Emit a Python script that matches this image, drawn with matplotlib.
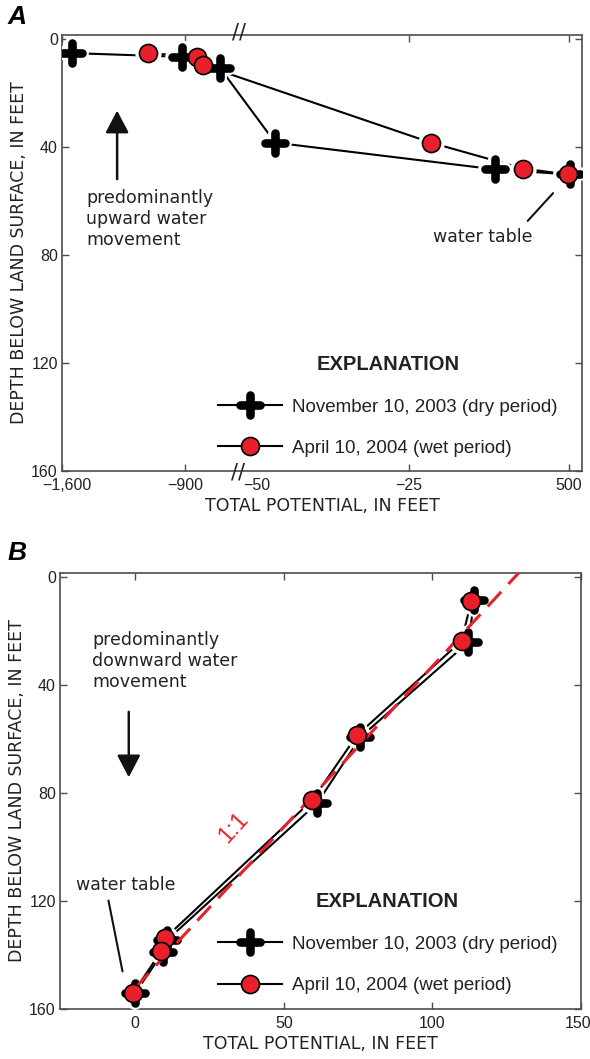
import numpy as np
import matplotlib.pyplot as plt
import matplotlib.transforms as mtransforms
from matplotlib.lines import Line2D
from matplotlib.markers import MarkerStyle

# ---- panel A: broken potential axis ----
a_dry_x = [-1543, -917, -702, -47.0, 257, 502]
a_dry_depth = [5.1, 6.5, 10.6, 38.3, 48.2, 50.1]
a_wet_x = [-1110, -832, -798, 47, 349, 497]
a_wet_depth = [5.1, 6.5, 9.5, 38.3, 47.9, 50.1]
a_xticks = [-1600, -900, -50, -25, 500]
a_xticklabels = ['\u22121,600', '\u2212900', '\u221250', '\u221225', '500']

# ---- panel B ----
b_dry_x = [114.1, 112.1, 75.8, 61.3, 10.8, 9.4, 0.0]
b_dry_depth = [8.5, 24.1, 59.3, 83.7, 134.4, 138.9, 154.1]
b_wet_x = [113.1, 109.8, 74.7, 59.6, 10.1, 8.8, -0.7]
b_wet_depth = [8.9, 23.7, 58.5, 82.6, 133.7, 138.5, 154.1]
b_one_x = [0, 129]
b_one_depth = [152.2, -1.5]
b_xticks = [0, 50, 100, 150]

depth_ticks = [0, 40, 80, 120, 160]
labels = ['November 10, 2003 (dry period)', 'April 10, 2004 (wet period)']

RED = '#e8202a'
AXC = '#4d4d4d'
NARROW = ['Liberation Sans Narrow', 'Liberation Sans']
MAIN = 'DejaVu Sans'

# piecewise scale for the broken axis in A
knots_data = [-5000, -1600, -900, -600, -50, -25, 500, 5000]
knots_pos = [-535.4, 62, 185, 238, 257, 409, 569, 1940.6]


def fwd(x):
    return np.interp(x, knots_data, knots_pos)


def inv(p):
    return np.interp(p, knots_pos, knots_data)


cross = MarkerStyle('+', capstyle='round')
cross_kw = dict(marker=cross, ms=14, mew=6.2, color='k')
circ_kw = dict(marker='o', ms=13, mfc=RED, mec='k', mew=1.2)


def draw(ax, dx, dy, wx, wy):
    ax.plot(dx, dy, color='k', lw=1.5, zorder=2)
    ax.plot(wx, wy, color='k', lw=1.5, zorder=2)
    ax.plot(dx, dy, ls='none', marker=cross, ms=14, mew=10, color='white', zorder=3)
    ax.plot(wx, wy, ls='none', marker='o', ms=18, mfc='white', mec='white', zorder=3)
    ax.plot(dx, dy, ls='none', zorder=4, **cross_kw)
    ax.plot(wx, wy, ls='none', zorder=5, **circ_kw)


def style(ax):
    for s in ax.spines.values():
        s.set_color(AXC)
        s.set_linewidth(1.2)
    ax.tick_params(direction='in', top=True, right=True, length=5, width=1,
                   color=AXC, labelsize=11.5, labelfontfamily=NARROW, pad=3,
                   labelcolor='#222222')
    ax.tick_params(axis='x', pad=5)
    ax.set_yticks(depth_ticks)
    ax.set_ylabel('DEPTH BELOW LAND SURFACE, IN FEET', fontsize=12.5, family=MAIN,
                  labelpad=2, color='#222222')
    ax.set_xlabel('TOTAL POTENTIAL, IN FEET', fontsize=12.5, family=MAIN, labelpad=3,
                  color='#222222')


def legend(ax, anchor):
    handles = [Line2D([], [], lw=1.5, **cross_kw),
               Line2D([], [], lw=1.5, color='k', **circ_kw)]
    leg = ax.legend(handles, labels, title='EXPLANATION', loc='upper left',
                    bbox_to_anchor=anchor, frameon=False,
                    prop=dict(family=NARROW, size=13.5),
                    title_fontproperties=dict(family=NARROW, size=14.5, weight='bold'),
                    handlelength=3.4, handletextpad=0.55, labelspacing=1.3,
                    borderpad=0, borderaxespad=0, numpoints=1)
    leg.get_title().set_color('#222222')
    for t in leg.get_texts():
        t.set_color('#222222')


fig = plt.figure(figsize=(5.9, 10.59), dpi=100)
axA = fig.add_axes([62 / 590, 1 - 471 / 1059, 520 / 590, 436 / 1059])
axB = fig.add_axes([60 / 590, 1 - 1009 / 1059, 521 / 590, 436 / 1059])

arrow_kw = dict(arrowstyle='-|>,head_length=0.8,head_width=0.42',
                mutation_scale=17, lw=1.8, color='#111111')

# panel A
axA.set_xscale('function', functions=(fwd, inv))
draw(axA, a_dry_x, a_dry_depth, a_wet_x, a_wet_depth)
axA.set_xlim(-1600, 542.7)
axA.set_ylim(160, -1.6)
axA.set_xticks(a_xticks)
axA.set_xticklabels(a_xticklabels)
style(axA)
axA.xaxis.get_major_ticks()[2].tick1line.set_visible(False)
axA.xaxis.get_major_ticks()[2].tick2line.set_visible(False)
# nudge the first label right a little, as in the original
lab0 = axA.xaxis.get_major_ticks()[0].label1
lab0.set_transform(lab0.get_transform() +
                   mtransforms.ScaledTranslation(5 / 100, 0, fig.dpi_scale_trans))
for xb, yb in ((0.338, -0.004), (0.34, 1.006)):
    axA.text(xb, yb, '//', transform=axA.transAxes, ha='center', va='center',
             fontsize=15, family='DejaVu Sans', color='#222222', clip_on=False)
axA.annotate('', xy=(0.106, 0.833), xytext=(0.106, 0.663), xycoords='axes fraction',
             arrowprops=arrow_kw)
axA.text(0.046, 0.578, 'predominantly\nupward water\nmovement', transform=axA.transAxes,
         ha='left', va='center', fontsize=12.5, family=MAIN, color='#222222', linespacing=1.24)
axA.text(0.713, 0.537, 'water table', transform=axA.transAxes, ha='left', va='center',
         fontsize=12.5, family=MAIN, color='#222222')
axA.annotate('', xy=(0.948, 0.642), xytext=(0.892, 0.569), xycoords='axes fraction',
             arrowprops=dict(arrowstyle='-', lw=1.5, color='#111111'))
legend(axA, (0.30, 0.266))

# panel B
draw(axB, b_dry_x, b_dry_depth, b_wet_x, b_wet_depth)
axB.plot(b_one_x, b_one_depth, color=RED, lw=2.2, dashes=(6.5, 3.5), zorder=4.5)
axB.set_xlim(-25.3, 150)
axB.set_ylim(160, -1.5)
axB.set_xticks(b_xticks)
style(axB)
lab3 = axB.xaxis.get_major_ticks()[3].label1
lab3.set_transform(lab3.get_transform() +
                   mtransforms.ScaledTranslation(-3 / 100, 0, fig.dpi_scale_trans))
axB.text(33.0, 93, '1:1', color=RED, fontsize=17, family='Liberation Sans',
         rotation=48, ha='center', va='center')
axB.annotate('', xy=(0.132, 0.525), xytext=(0.132, 0.688), xycoords='axes fraction',
             arrowprops=arrow_kw)
axB.text(0.0614, 0.798, 'predominantly\ndownward water\nmovement', transform=axB.transAxes,
         ha='left', va='center', fontsize=12.5, family=MAIN, color='#222222', linespacing=1.24)
axB.text(0.031, 0.284, 'water table', transform=axB.transAxes, ha='left', va='center',
         fontsize=12.5, family=MAIN, color='#222222')
axB.annotate('', xy=(0.121, 0.080), xytext=(0.092, 0.255), xycoords='axes fraction',
             arrowprops=dict(arrowstyle='-', lw=1.5, color='#111111'))
legend(axB, (0.303, 0.268))

fig.text(8 / 590, 1 - 17 / 1059, 'A', fontsize=19, weight='bold', style='italic',
         family='Liberation Sans', va='center', ha='left')
fig.text(8 / 590, 1 - 553 / 1059, 'B', fontsize=19, weight='bold', style='italic',
         family='Liberation Sans', va='center', ha='left')

fig.savefig('out.png', dpi=100)
